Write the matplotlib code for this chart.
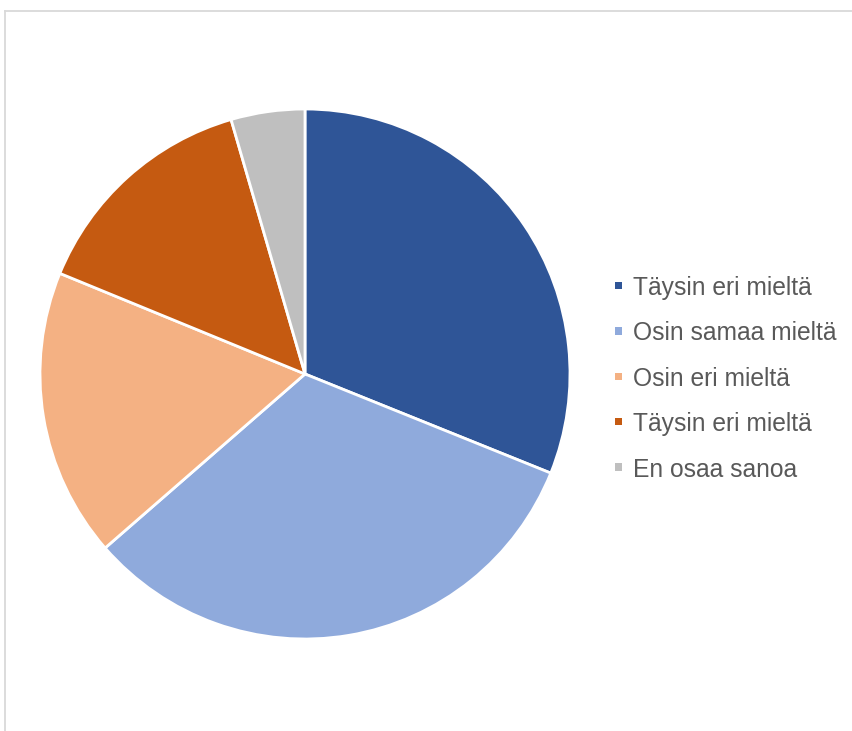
import matplotlib
matplotlib.use("Agg")
import matplotlib.pyplot as plt
from matplotlib.patches import Rectangle
from matplotlib.lines import Line2D

labels = ["Täysin eri mieltä", "Osin samaa mieltä", "Osin eri mieltä",
          "Täysin eri mieltä", "En osaa sanoa"]
values = [31.1, 32.5, 17.6, 14.3, 4.5]
colors = ["#2F5597", "#8FAADC", "#F4B183", "#C55A11", "#BFBFBF"]

W, H, DPI = 853, 731, 100
fig = plt.figure(figsize=(W / DPI, H / DPI), dpi=DPI)
fig.patch.set_facecolor("white")

# pie area: centre (305, 374) px, radius 265 px
cx, cy, r = 305, 374, 265
ax = fig.add_axes([(cx - r) / W, (H - cy - r) / H, 2 * r / W, 2 * r / H])
ax.pie(values, colors=colors, startangle=90, counterclock=False,
       radius=1.0,
       wedgeprops=dict(edgecolor="white", linewidth=2.0, antialiased=True))
ax.set_xlim(-1.0, 1.0)
ax.set_ylim(-1.0, 1.0)
ax.set_axis_off()

# legend drawn in figure pixel coordinates
font = ["Liberation Sans", "DejaVu Sans"]
y0, dy = 285.5, 45.4
for i, (lab, col) in enumerate(zip(labels, colors)):
    yc = y0 + dy * i
    fig.add_artist(Rectangle((615 / W, (H - yc - 3.7) / H), 7.5 / W, 7.5 / H,
                             transform=fig.transFigure, facecolor=col,
                             edgecolor="none"))
    fig.text(633 / W, (H - yc) / H, lab, fontsize=17.7, family=font,
             color="#595959", va="center_baseline", ha="left")

# chart-area border (top and left edges)
fig.add_artist(Line2D([5.5 / W, 1.0], [(H - 11) / H, (H - 11) / H],
                      transform=fig.transFigure, color="#D9D9D9", lw=1.3))
fig.add_artist(Line2D([5.5 / W, 5.5 / W], [0, (H - 11) / H],
                      transform=fig.transFigure, color="#D9D9D9", lw=1.3))

fig.savefig("out.png", dpi=DPI, facecolor="white")
